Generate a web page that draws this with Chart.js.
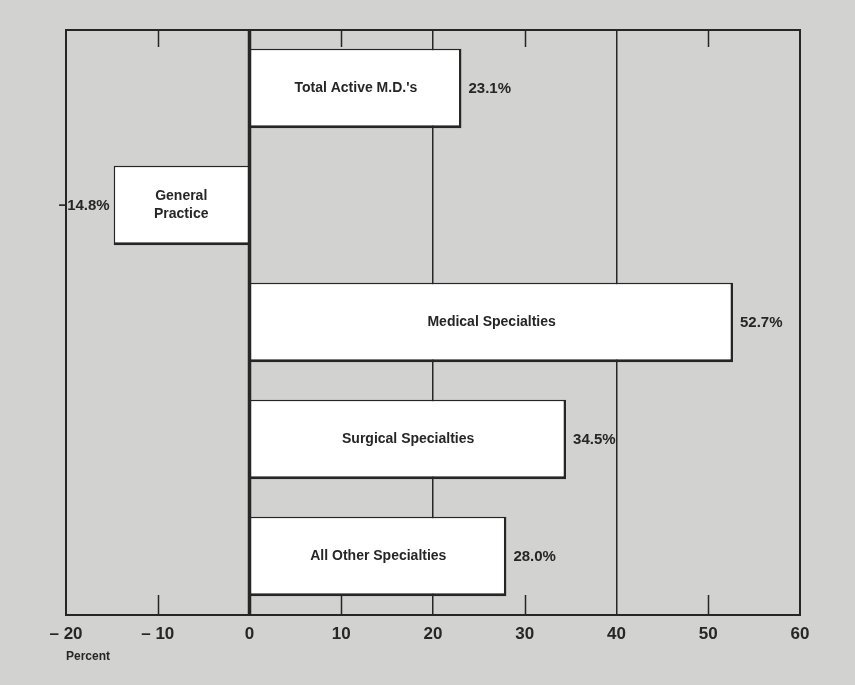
<!DOCTYPE html>
<html>
<head>
<meta charset="utf-8">
<script src="https://cdn.jsdelivr.net/npm/chart.js@4"></script>
<style>
    html, body {
        margin: 0;
        padding: 0;
        background: #d2d2d0;
    }
    #wrap {
        width: 855px;
        height: 685px;
    }
</style>
</head>
<body>
<div id="wrap"><canvas id="changeChart"></canvas></div>
<script>
// categories, top to bottom
const categories = [
    "Total Active M.D.'s",
    ["General", "Practice"],
    "Medical Specialties",
    "Surgical Specialties",
    "All Other Specialties"
];

// percent change
const changeValues = [23.1, -14.8, 52.7, 34.5, 28.0];

const valueLabels = ["23.1%", "\u221214.8%", "52.7%", "34.5%", "28.0%"];

const tickValues = [-20, -10, 0, 10, 20, 30, 40, 50, 60];
const tickLabels = ["\u2013 20", "\u2013 10", "0", "10", "20", "30", "40", "50", "60"];

// full height rules, the rest only get short marks top and bottom
const fullLines = [0, 20, 40];

const ink = "#262626";

// frame, short ticks, labels in and beside bars
const paperPlugin = {
    id: "paperPlugin",
    afterDatasetsDraw(chart) {
        const ctx = chart.ctx;
        const area = chart.chartArea;
        const xScale = chart.scales.x;

        ctx.save();

        // short tick marks
        ctx.strokeStyle = ink;
        ctx.lineWidth = 1.5;
        tickValues.forEach(v => {
            if (fullLines.includes(v) || v === -20 || v === 60) {
                return;
            }
            const px = Math.round(xScale.getPixelForValue(v)) + 0.5;
            ctx.beginPath();
            ctx.moveTo(px, area.top);
            ctx.lineTo(px, area.top + 17);
            ctx.moveTo(px, area.bottom);
            ctx.lineTo(px, area.bottom - 20);
            ctx.stroke();
        });

        // frame
        ctx.lineWidth = 2;
        ctx.strokeRect(area.left, area.top, area.right - area.left, area.bottom - area.top);

        // zero line on top
        const zx = xScale.getPixelForValue(0);
        ctx.lineWidth = 3.5;
        ctx.beginPath();
        ctx.moveTo(zx, area.top);
        ctx.lineTo(zx, area.bottom);
        ctx.stroke();

        // labels
        const meta = chart.getDatasetMeta(0);
        ctx.fillStyle = ink;
        ctx.textBaseline = "middle";

        meta.data.forEach((bar, i) => {
            const name = categories[i];
            const mid = (bar.x + bar.base) / 2;

            ctx.font = "bold 14px 'Liberation Sans', Arial, sans-serif";
            ctx.textAlign = "center";
            if (Array.isArray(name)) {
                ctx.fillText(name[0], mid, bar.y - 9);
                ctx.fillText(name[1], mid, bar.y + 9);
            } else {
                ctx.fillText(name, mid, bar.y);
            }

            ctx.font = "bold 15px 'Liberation Sans', Arial, sans-serif";
            if (changeValues[i] >= 0) {
                ctx.textAlign = "left";
                ctx.fillText(valueLabels[i], bar.x + 7, bar.y);
            } else {
                ctx.textAlign = "right";
                ctx.fillText(valueLabels[i], bar.x - 4, bar.y);
            }
        });

        // axis caption
        ctx.font = "bold 12px 'Liberation Sans', Arial, sans-serif";
        ctx.textAlign = "left";
        ctx.fillText("Percent", area.left, area.bottom + 42);

        ctx.restore();
    }
};

const chart = new Chart(document.getElementById("changeChart"), {
    type: "bar",
    data: {
        labels: categories,
        datasets: [{
            data: changeValues,
            backgroundColor: "#ffffff",
            borderColor: ink,
            borderWidth: { top: 1.5, left: 1.5, right: 2.5, bottom: 3 },
            barPercentage: 0.68,
            categoryPercentage: 1
        }]
    },
    options: {
        indexAxis: "y",
        responsive: true,
        maintainAspectRatio: false,
        animation: false,
        layout: {
            padding: { left: 66, right: 55, top: 30, bottom: 0 }
        },
        plugins: {
            legend: { display: false },
            tooltip: { enabled: false }
        },
        scales: {
            x: {
                type: "linear",
                min: -20,
                max: 60,
                afterBuildTicks(scale) {
                    scale.ticks = tickValues.map(v => ({ value: v }));
                },
                afterFit(scale) {
                    scale.height = 70;
                },
                ticks: {
                    padding: 9,
                    color: ink,
                    font: {
                        family: "'Liberation Sans', Arial, sans-serif",
                        size: 17,
                        weight: "bold"
                    },
                    callback: (value) => tickLabels[tickValues.indexOf(value)]
                },
                grid: {
                    drawTicks: false,
                    color: (c) => (c.tick && [20, 40].includes(c.tick.value)) ? ink : "rgba(0,0,0,0)",
                    lineWidth: 1.5
                },
                border: { display: false }
            },
            y: {
                display: false
            }
        }
    },
    plugins: [paperPlugin]
});
</script>
</body>
</html>
